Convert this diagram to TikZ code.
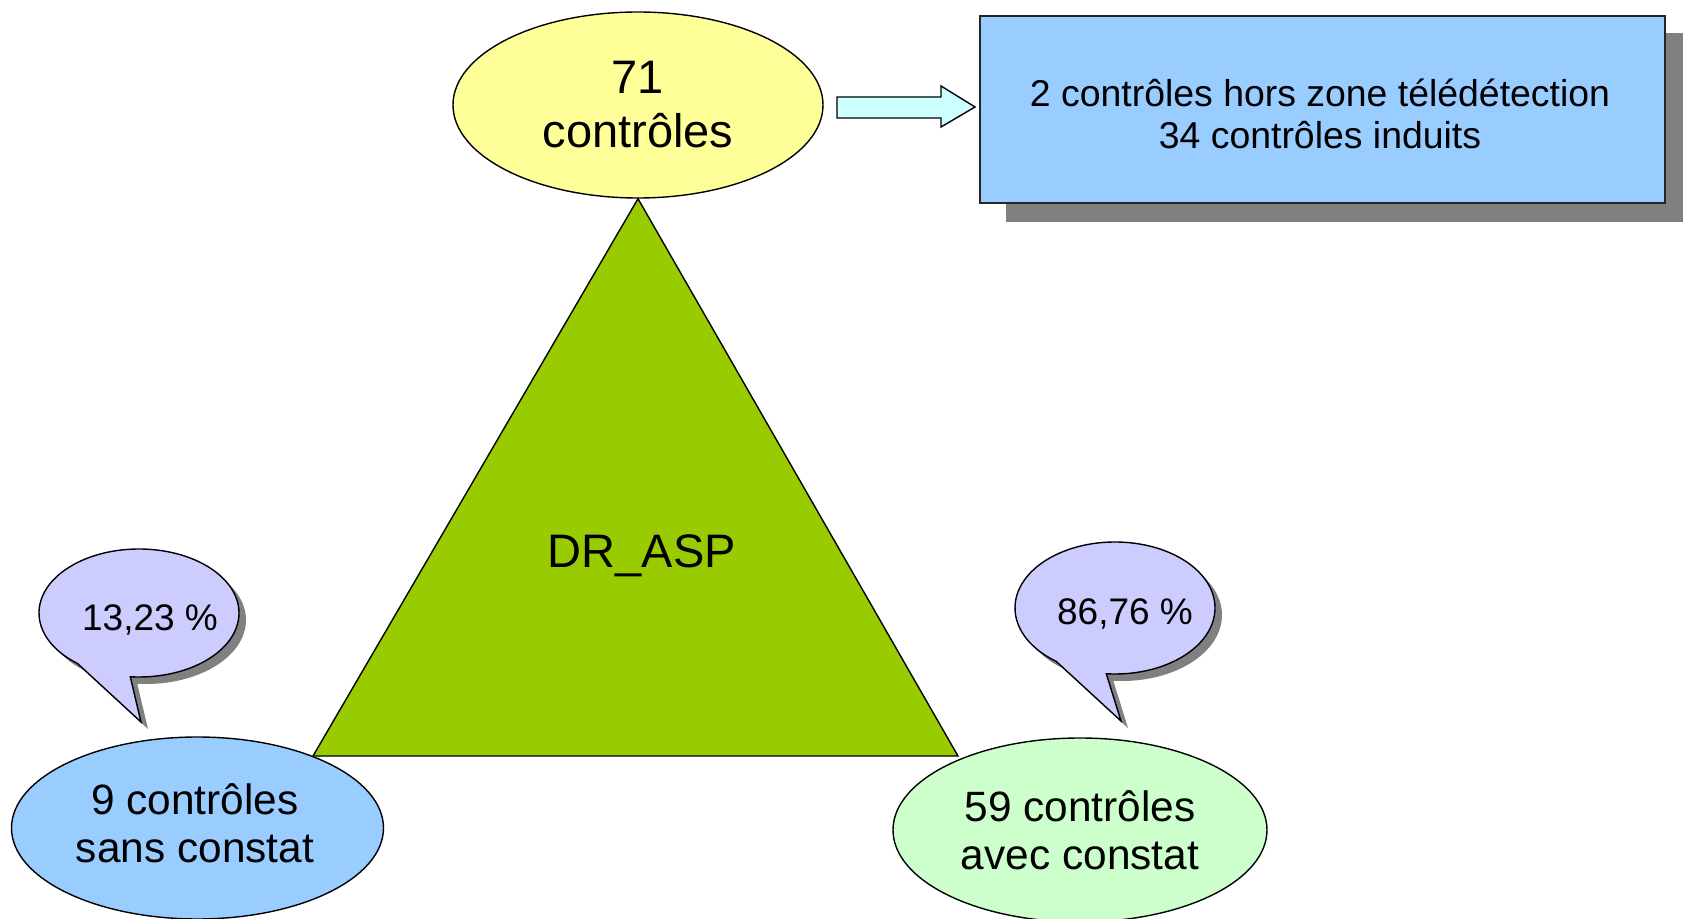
\documentclass[tikz,border=0pt]{standalone}
\usepackage{fontspec}
\setmainfont{Liberation Sans}
\usetikzlibrary{shapes.geometric,calc,backgrounds}
\definecolor{ylw}{HTML}{FFFF99}
\definecolor{blu}{HTML}{99CCFF}
\definecolor{cyn}{HTML}{CCFFFF}
\definecolor{grn}{HTML}{99CC00}
\definecolor{lgrn}{HTML}{CCFFCC}
\definecolor{lav}{HTML}{CCCCFF}
\definecolor{shd}{HTML}{808080}
\begin{document}
\begin{tikzpicture}[x=0.5pt,y=0.5pt,line width=0.7pt,
  ell/.style={ellipse,draw=black,inner sep=0pt,align=center},
  bigtxt/.style={font=\fontsize{23.5}{27}\selectfont},
  midtxt/.style={font=\fontsize{21.2}{24}\selectfont},
  boxtxt/.style={font=\fontsize{18.7}{21}\selectfont},
  pcttxt/.style={font=\fontsize{18.5}{21}\selectfont},
  bubble/.style={fill=lav,draw=black},
  bubshadow/.style={fill=shd}]
\useasboundingbox (0,0) rectangle (1683,-919);

% top ellipse
\node[ell,fill=ylw,minimum width=185pt,minimum height=93pt,bigtxt] (top) at (638,-105) {71\\contrôles};

% box with shadow
\node[rectangle,draw=black!85,line width=1pt,fill=blu,minimum width=342.5pt,minimum height=93.5pt,boxtxt] (box) at (1322.5,-109.5) {};
\node[align=center,boxtxt] (boxtext) at (1320,-114) {2 contrôles hors zone télédétection\\34 contrôles induits};
\begin{scope}[on background layer]
  \fill[shd] ($(box.south west)+(27,-18)$) rectangle ($(box.north east)+(27,-18)$);
\end{scope}

% block arrow
\draw[fill=cyn] (837,-97) -- (941,-97) -- (941,-86) -- (975,-107) -- (941,-127) -- (941,-118) -- (837,-118) -- cycle;

% triangle
\coordinate (apex) at (top.south);
\coordinate (bl) at (313,-756);
\coordinate (br) at (958,-756);
\draw[fill=grn] (apex) -- (br) -- (bl) -- cycle;
\node[bigtxt] (dr) at (642,-556) {DR\_ASP};

% bottom ellipses
\node[ell,fill=blu,minimum width=186pt,minimum height=91pt] (left) at (197.5,-828) {};
\node[align=center,midtxt] (lefttext) at (195,-823) {9 contrôles\\sans constat};
\node[ell,fill=lgrn,minimum width=187pt,minimum height=92pt,midtxt] (right) at (1080,-830) {59 contrôles\\avec constat};

% left callout
\fill[bubshadow] ([shift={(265:100 and 64)}]146,-620) arc[start angle=265,end angle=592,x radius=100,y radius=64] -- (148,-729) -- cycle;
\draw[bubble] ([shift={(265:100 and 64)}]139,-613) arc[start angle=265,end angle=592,x radius=100,y radius=64] -- (141,-722) -- cycle;
\node[pcttxt] (p1) at (150,-620) {13,23 \%};

% right callout
\fill[bubshadow] ([shift={(265:100 and 66)}]1122,-615) arc[start angle=265,end angle=594,x radius=100,y radius=66] -- (1128,-728) -- cycle;
\draw[bubble] ([shift={(265:100 and 66)}]1115,-608) arc[start angle=265,end angle=594,x radius=100,y radius=66] -- (1121,-721) -- cycle;
\node[pcttxt] (p2) at (1125,-614) {86,76 \%};
\end{tikzpicture}
\end{document}
